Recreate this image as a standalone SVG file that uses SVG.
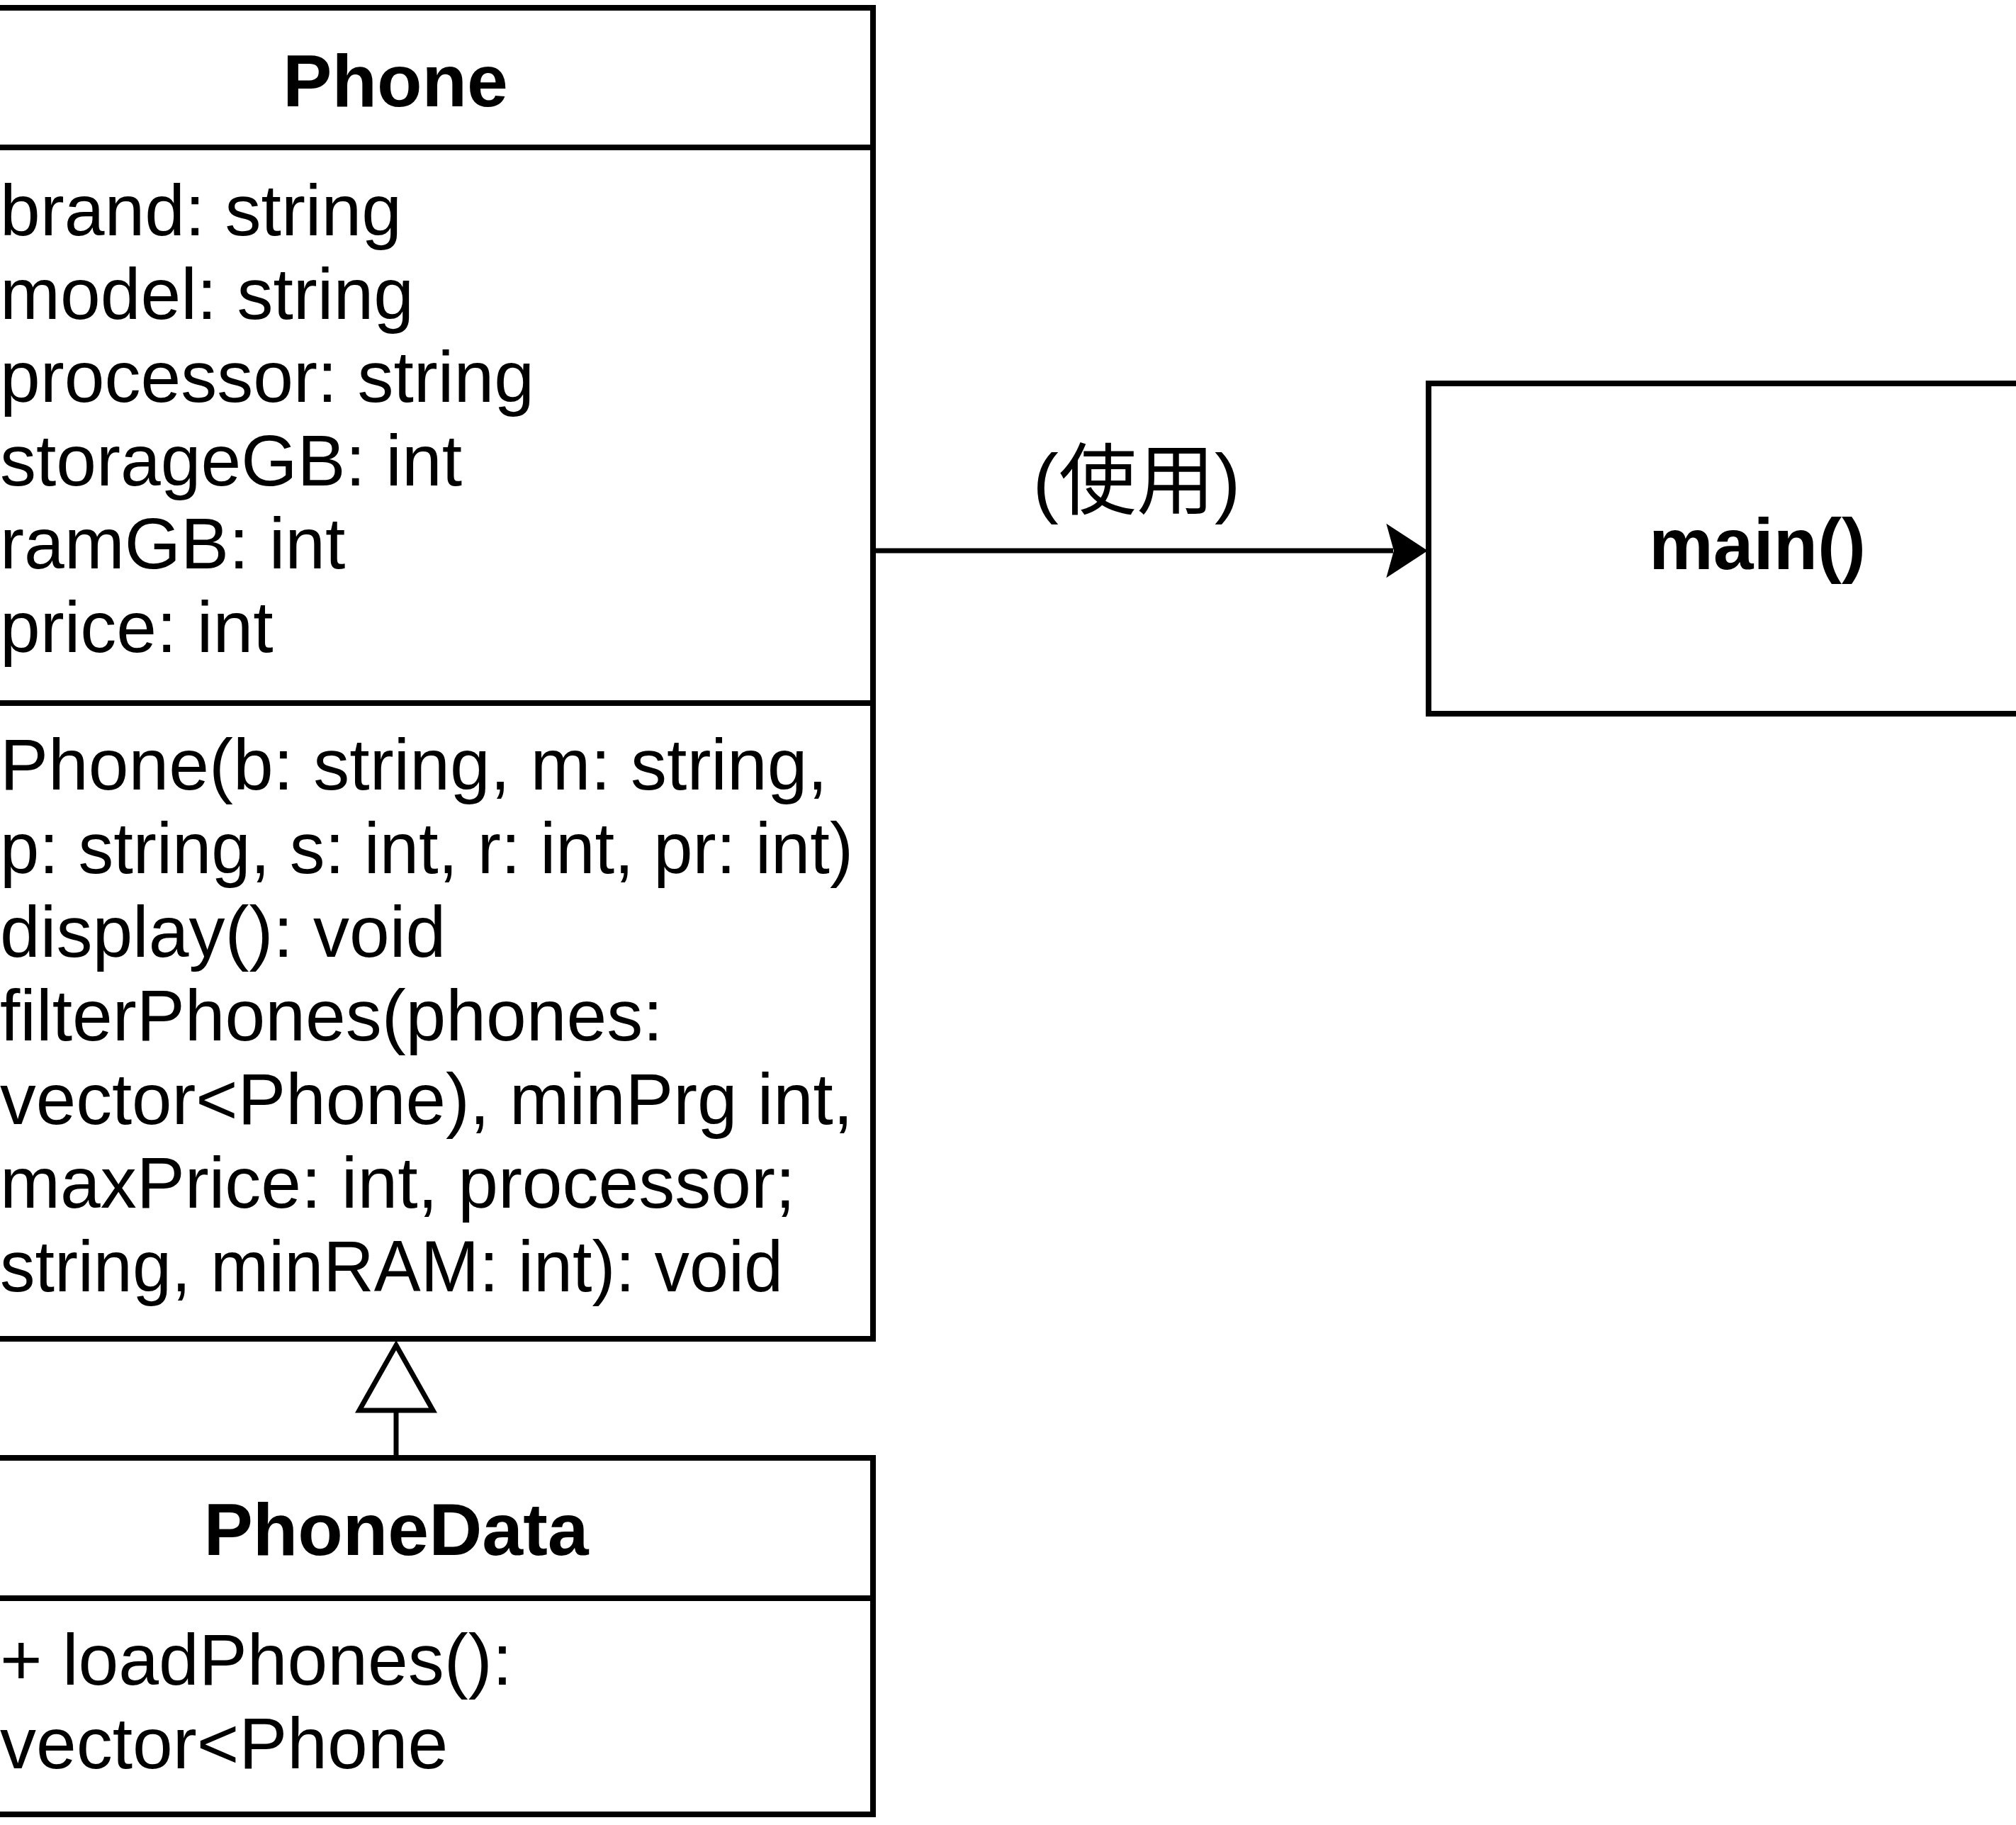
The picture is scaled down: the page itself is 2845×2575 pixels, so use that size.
<svg xmlns="http://www.w3.org/2000/svg" width="2845" height="2575" viewBox="0 0 2845 2575">
<style>
.box{fill:#ffffff;stroke:#000000;stroke-width:8}
.sep{stroke:#000000;stroke-width:8;fill:none}
.edge{stroke:#000000;stroke-width:7;fill:none}
.t{font-family:"Liberation Sans",Arial,"Noto Sans CJK SC",sans-serif;font-size:102px;fill:#000000}
.lbl{font-family:"Liberation Sans",Arial,"Noto Sans CJK SC",sans-serif;font-size:110px;fill:#000000;text-anchor:middle}
.title{font-family:"Liberation Sans",Arial,sans-serif;font-size:104px;font-weight:bold;fill:#000000;text-anchor:middle}
</style>
<rect x="0" y="0" width="2845" height="2575" fill="#ffffff"/>
<g id="Phone">
<rect class="box" x="-116" y="11" width="1348" height="1878"/>
<line class="sep" x1="-116" y1="208" x2="1232" y2="208"/>
<line class="sep" x1="-116" y1="992" x2="1232" y2="992"/>
<text class="title" x="558" y="150">Phone</text>
<text class="t" x="0" y="332">brand: string</text>
<text class="t" x="0" y="449.5">model: string</text>
<text class="t" x="0" y="567">processor: string</text>
<text class="t" x="0" y="684.5">storageGB: int</text>
<text class="t" x="0" y="802">ramGB: int</text>
<text class="t" x="0" y="919.5">price: int</text>
<text class="t" x="0" y="1114">Phone(b: string, m: string,</text>
<text class="t" x="0" y="1232" textLength="1204" lengthAdjust="spacingAndGlyphs">p: string, s: int, r: int, pr: int)</text>
<text class="t" x="0" y="1350">display(): void</text>
<text class="t" x="0" y="1468">filterPhones(phones:</text>
<text class="t" x="0" y="1586" textLength="1204" lengthAdjust="spacingAndGlyphs">vector&lt;Phone), minPrg int,</text>
<text class="t" x="0" y="1704">maxPrice: int, processor;</text>
<text class="t" x="0" y="1822" textLength="1105" lengthAdjust="spacingAndGlyphs">string, minRAM: int): void</text>
</g>
<g id="PhoneData">
<rect class="box" x="-116" y="2057" width="1348" height="503"/>
<line class="sep" x1="-116" y1="2255" x2="1232" y2="2255"/>
<text class="title" x="559" y="2194">PhoneData</text>
<text class="t" x="0" y="2377">+ loadPhones():</text>
<text class="t" x="0" y="2495">vector&lt;Phone</text>
</g>
<g id="main">
<rect class="box" x="2016" y="541" width="928" height="466"/>
<text class="title" x="2480" y="803" style="font-size:102px">main()</text>
</g>
<g id="connectors">
<line class="edge" x1="1232" y1="777" x2="1966" y2="777"/>
<path d="M1958,741 L2013,777 L1958,813 L1968,777 Z" fill="#000000" stroke="#000000" stroke-width="2" stroke-linejoin="miter"/>
<text class="lbl" x="1604" y="717">(使用)</text>
<line class="edge" x1="559" y1="2057" x2="559" y2="1991"/>
<path d="M559,1898 L611,1990 L507,1990 Z" fill="#ffffff" stroke="#000000" stroke-width="7" stroke-linejoin="miter"/>
</g>
</svg>
